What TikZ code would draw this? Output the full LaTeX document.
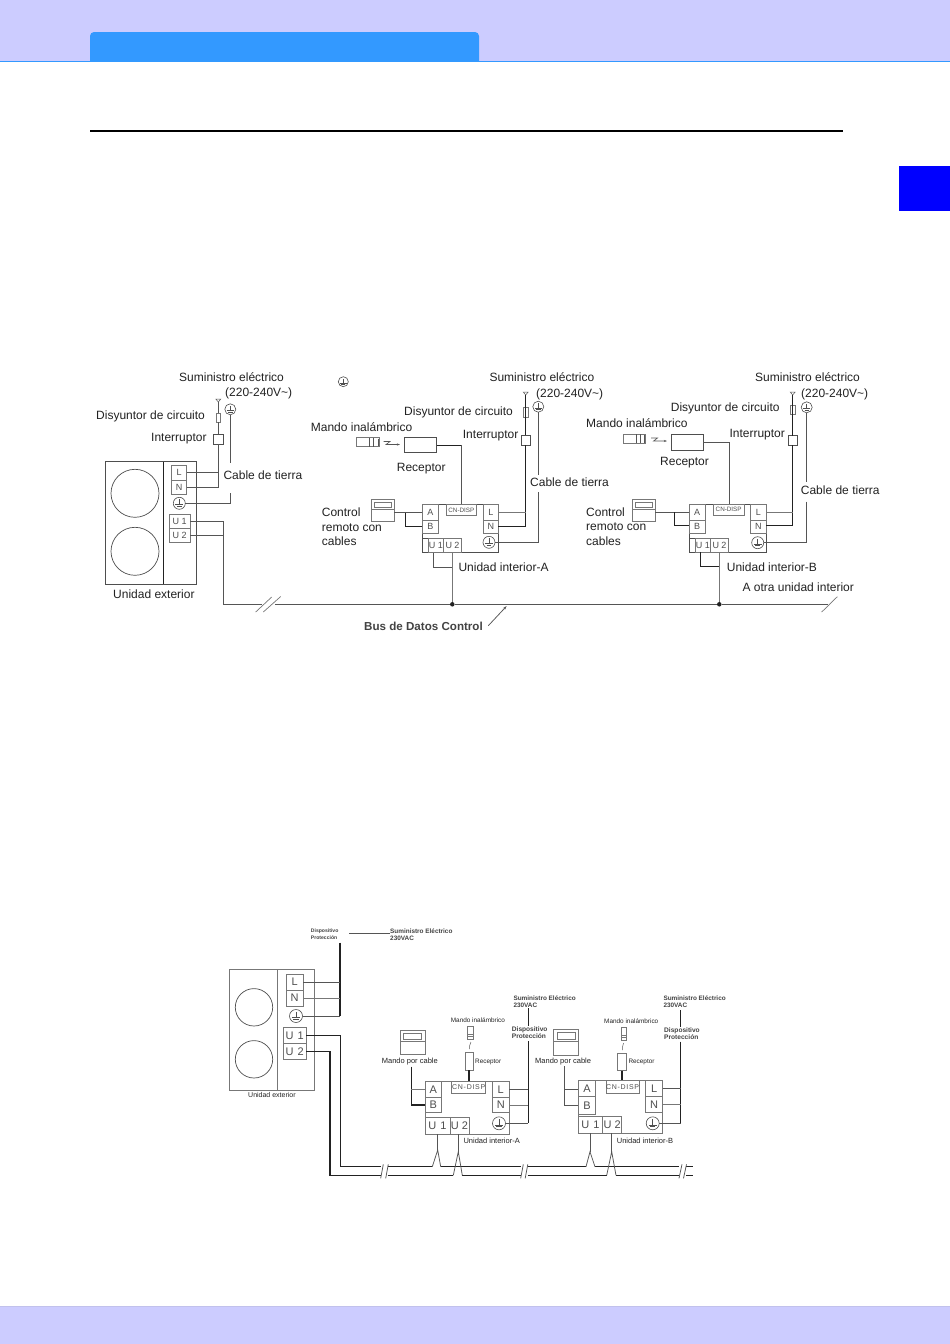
\documentclass[tikz,border=0pt]{standalone}
\usepackage{fontspec}
\setmainfont{Liberation Sans}
\usetikzlibrary{arrows.meta}
\definecolor{band}{HTML}{CCCCFF}
\definecolor{tabblue}{HTML}{3399FF}
\definecolor{ink}{HTML}{222222}
\definecolor{wire}{HTML}{555555}
\definecolor{boxline}{HTML}{777777}
\tikzset{
  wireln/.style={draw=wire,line width=.75pt},
  darkln/.style={draw=ink,line width=.9pt},
  thickln/.style={draw=ink,line width=1.8pt},
  midln/.style={draw=ink,line width=1.4pt},
  grayln/.style={draw=boxline,line width=.7pt},
  dotn/.style={circle,fill=ink,inner sep=0pt,minimum size=4.5pt},
  termbox/.style={draw=boxline,line width=.8pt,inner sep=0pt,outer sep=0pt,text=ink!80},
  unitbox/.style={draw=ink!80,line width=.8pt,inner sep=0pt,outer sep=0pt},
  fan/.style={circle,draw=ink!80,line width=.7pt,inner sep=0pt,outer sep=0pt},
}
% \lab{name}{size}{x left}{y centre}{text}
\newcommand\lab[5]{\node[anchor=west,inner sep=0pt,text=ink,font=\fontsize{#2}{#2}\selectfont,text height={#2*.72pt},text depth={#2*.16pt}] (#1) at (#3,#4) {#5};}
\newcommand\blab[5]{\node[anchor=west,inner sep=0pt,text=ink!85,font=\fontsize{#2}{#2}\selectfont\bfseries,text height={#2*.72pt},text depth={#2*.16pt}] (#1) at (#3,#4) {#5};}
% \bx{style}{name}{x1}{y1}{x2}{y2}{fontsize}{text}
\newcommand\bx[8]{\node[#1,minimum width={(#5-#3)*1pt},minimum height={(#6-#4)*1pt},font=\fontsize{#7}{#7}\selectfont] (#2) at ({(#3+#5)/2},{(#4+#6)/2}) {#8};}
% \gnd{name}{x}{y}{diameter}
\newcommand\gnd[4]{\node[circle,draw=ink!80,line width=.6pt,inner sep=0pt,outer sep=0pt,minimum size=#4pt] (#1) at (#2,#3) {};
  \draw[ink!80,line width=.5pt] (#2,#3-#4*.32) -- (#2,#3+#4*.12) (#2-#4*.32,#3+#4*.12) -- (#2+#4*.32,#3+#4*.12) (#2-#4*.2,#3+#4*.25) -- (#2+#4*.2,#3+#4*.25);}
% \ant{name}{x}{y}
\newcommand\ant[3]{\coordinate (#1) at (#2,#3);\draw[wire,line width=.5pt] (#2-2.5,#3-3) -- (#2+2.5,#3-3) -- (#1) -- cycle;}
\newcommand\spaced[1]{{\addfontfeature{LetterSpace=10}#1}}
\begin{document}
\begin{tikzpicture}[x=1pt,y=-1pt]
\useasboundingbox (0,0) rectangle (950,1344);
\fill[white] (0,0) rectangle (950,1344);
% page furniture
\fill[band] (0,0) rectangle (950,61);
\fill[tabblue,rounded corners=4pt] (90,65) -- (90,32) -- (479,32) -- (479,65) [sharp corners] -- cycle;
\fill[white] (85,61.5) rectangle (485,70);
\draw[tabblue,line width=.8pt] (0,61.3) -- (950,61.3);
\draw[black,line width=2pt] (90,130.8) -- (843,130.8);
\fill[blue] (899,166) rectangle (950,211);
\fill[band] (0,1306) rectangle (950,1344);
\fill[band!85!gray] (0,1306) rectangle (950,1307);

% ================= DIAGRAM 1 =================
% outdoor unit
\bx{unitbox}{oa}{105.3}{461.7}{196.7}{584}{8}{}
\draw[ink,line width=.8pt] (163.3,461.7) -- (163.3,584);
\node[fan,minimum size=48pt] (oaf1) at (135,493.3) {};
\node[fan,minimum size=48pt] (oaf2) at (135,551.3) {};
\bx{termbox}{oaL}{171.7}{465.7}{186.7}{480}{9}{L}
\bx{termbox}{oaN}{171.7}{480}{186.7}{494}{9}{N}
\gnd{oaG}{179.3}{503.3}{12}
\bx{termbox}{oaU1}{169.3}{514}{190}{528}{9}{U 1}
\bx{termbox}{oaU2}{169.3}{528}{190}{542}{9}{U 2}
\ant{oaT}{218.3}{402}
\bx{termbox}{oaF}{216}{413.3}{220.6}{422}{6}{}
\bx{unitbox}{oaS}{213.3}{434}{223.3}{444}{6}{}
\gnd{oaTG}{230.3}{409.3}{11}
\gnd{loneG}{343.3}{381.7}{10}
\coordinate (oaJN) at (218.3,487);
\coordinate (oaJL) at (218.3,472.5);
\coordinate (oaG1) at (230.3,463);
\coordinate (oaG2) at (230.3,493);
\coordinate (oaG3) at (230.3,503.3);
\coordinate (oaV1) at (223,521.3);
\coordinate (oaV2) at (223,535);
\coordinate (busL) at (223,604.3);
\draw[wireln] (oaT) -- (oaF.north);
\draw[wireln] (oaF.south) -- (oaS.north);
\draw[wireln] (oaS.south) -- (oaJN) -- (oaN.east |- oaJN);
\draw[wireln] (oaJL) -- (oaL.east |- oaJL);
\draw[wireln] (oaTG.south) -- (oaG1);
\draw[wireln] (oaG2) -- (oaG3) -- (oaG.east);
\draw[wireln] (oaU1.east |- oaV1) -- (oaV1) -- (busL);
\draw[wireln] (oaU2.east |- oaV2) -- (oaV2);
% bus
\node[dotn] (dotA) at (452.3,604.3) {};
\node[dotn] (dotB) at (719.3,604.3) {};
\coordinate (busG1) at (262,604.3);
\coordinate (busG2) at (275,604.3);
\coordinate (busR) at (828,604.3);
\draw[wireln] (busL) -- (busG1);
\draw[wireln] (busG2) -- (dotA) -- (dotB) -- (busR);
\coordinate (sl1a) at (255.7,612); \coordinate (sl1b) at (271.7,597);
\coordinate (sl2a) at (263.3,612); \coordinate (sl2b) at (280.7,596.5);
\coordinate (sl3a) at (821.7,612); \coordinate (sl3b) at (837.3,596.7);
\draw[grayln] (sl1a) -- (sl1b) (sl2a) -- (sl2b) (sl3a) -- (sl3b);
\coordinate (arrA) at (488.3,625.7); \coordinate (arrB) at (506.7,606);
\draw[wireln,-{Stealth[length=4pt,width=2.5pt]}] (arrA) -- (arrB);
% labels outdoor
\lab{t1}{12}{179}{378.5}{Suministro eléctrico}
\lab{t2}{12}{225}{393.5}{(220-240V\textasciitilde)}
\lab{t3}{12}{96}{416}{Disyuntor de circuito}
\lab{t4}{12}{151}{438.5}{Interruptor}
\lab{t5}{12}{223.3}{476}{Cable de tierra}
\lab{t6}{12}{113}{595}{Unidad exterior}
\blab{t7}{11.6}{364}{627.3}{Bus de Datos Control}

% indoor A
\bx{unitbox}{ia}{422.3}{504.3}{498.3}{552.7}{8}{}
\bx{termbox}{iaA}{422.3}{504.3}{438.3}{520}{9}{A}
\bx{termbox}{iaB}{422.3}{520}{438.3}{533.3}{9}{B}
\draw[ink!80,line width=.8pt] (422.3,538.3) -- (461.7,538.3) -- (461.7,552.7);
\bx{termbox}{iaU1}{428.3}{538.3}{443.3}{552.7}{9}{U 1}
\bx{termbox}{iaU2}{443.3}{538.3}{461.7}{552.7}{9}{U 2}
\bx{termbox}{iaC}{446}{504.3}{476.7}{515.7}{6.3}{CN-DISP}
\bx{termbox}{iaL}{483.3}{504.3}{498.3}{520}{9}{L}
\bx{termbox}{iaN}{483.3}{520}{498.3}{533.3}{9}{N}
\gnd{iaG}{489}{542.3}{12}
\ant{iaT}{525.7}{395}
\bx{termbox}{iaF}{523.2}{407.7}{528.2}{417.3}{6}{}
\bx{unitbox}{iaS}{521.2}{435}{530.2}{445}{6}{}
\gnd{iaTG}{538.3}{406.7}{11}
\bx{unitbox}{iaR}{404.3}{437}{436.7}{452.7}{6}{}
\bx{termbox}{iaM}{356}{437.7}{379.3}{446.7}{6}{}
\draw[wire,line width=.6pt] (369.3,437.7) -- (369.3,446.7) (373,437.7) -- (373,446.7) (378,438.5) -- (378,446);
\draw[wire,line width=.6pt,-{Stealth[length=3pt,width=2pt]}] (383.5,441.5) -- (390,441.5) -- (386,444.5) -- (400,444.5);
\bx{termbox}{iaD}{371}{499.3}{394.3}{521.7}{6}{}
\bx{termbox}{iaDs}{374}{502.3}{391.7}{507.3}{6}{}
\draw[boxline,line width=.7pt] (371,509.3) -- (394.3,509.3);
\coordinate (iaJ1) at (461.7,445);
\coordinate (iaJL) at (525.7,512);
\coordinate (iaJN) at (525.7,526);
\coordinate (iaG1) at (538.3,475);
\coordinate (iaG2) at (538.3,492);
\coordinate (iaG3) at (538.3,542.3);
\coordinate (iaW1) at (405.7,512.7);
\coordinate (iaW2) at (405.7,526);
\coordinate (iaW3) at (433.3,567.3);
\coordinate (iaW4) at (452.3,567.3);
\draw[darkln] (iaR.east |- iaJ1) -- (iaJ1);
\draw[wireln] (iaJ1) -- (iaJ1 |- iaC.north);
\draw[darkln] (iaT) -- (iaS.north);
\draw[darkln] (iaS.south) -- (iaJN) -- (iaN.east |- iaJN);
\draw[grayln] (iaJL) -- (iaL.east |- iaJL);
\draw[wireln] (iaTG.south) -- (iaG1);
\draw[wireln] (iaG2) -- (iaG3) -- (iaG.east);
\draw[wireln] (iaD.east |- iaW1) -- (iaA.west |- iaW1);
\draw[darkln] (iaW1) -- (iaW2) -- (iaB.west |- iaW2);
\draw[wireln] (iaW3 |- iaU1.south) -- (iaW3) -- (iaW4);
\draw[grayln] (dotA) -- (iaW4) -- (iaW4 |- ia.south);
\lab{a1}{12}{489.3}{378}{Suministro eléctrico}
\lab{a2}{12}{536}{394}{(220-240V\textasciitilde)}
\lab{a3}{12}{404}{412}{Disyuntor de circuito}
\lab{a4}{12}{462.7}{435}{Interruptor}
\lab{a5}{12}{530}{483.3}{Cable de tierra}
\lab{a6}{12}{310.7}{428}{Mando inalámbrico}
\lab{a7}{12}{396.7}{468}{Receptor}
\lab{a8}{12}{321.7}{513}{Control}
\lab{a9}{12}{321.7}{528}{remoto con}
\lab{a10}{12}{321.7}{542.3}{cables}
\lab{a11}{12}{458.3}{568}{Unidad interior-A}

% indoor B
\bx{unitbox}{ib}{689.3}{504.3}{766}{552.3}{8}{}
\bx{termbox}{ibA}{689.3}{504.3}{705}{520}{9}{A}
\bx{termbox}{ibB}{689.3}{520}{705}{533.3}{9}{B}
\draw[ink!80,line width=.8pt] (689.3,538.3) -- (728.3,538.3) -- (728.3,552.3);
\bx{termbox}{ibU1}{695}{538.3}{710.7}{552.3}{9}{U 1}
\bx{termbox}{ibU2}{710.7}{538.3}{728.3}{552.3}{9}{U 2}
\bx{termbox}{ibC}{713.3}{504.3}{744}{515}{6.3}{CN-DISP}
\bx{termbox}{ibL}{750.7}{504.3}{766}{520}{9}{L}
\bx{termbox}{ibN}{750.7}{520}{766}{533.3}{9}{N}
\gnd{ibG}{757.7}{542.7}{12}
\ant{ibT}{792.7}{395}
\bx{termbox}{ibF}{789.9}{405}{795.5}{414.3}{6}{}
\bx{unitbox}{ibS}{788.2}{435.7}{797.2}{445}{6}{}
\gnd{ibTG}{806.7}{407.3}{11}
\bx{unitbox}{ibR}{671.7}{434.3}{703.3}{450}{6}{}
\bx{termbox}{ibM}{623.3}{434.3}{645.7}{443.3}{6}{}
\draw[wire,line width=.6pt] (636.5,434.3) -- (636.5,443.3) (640,434.3) -- (640,443.3) (644.5,435) -- (644.5,442.5);
\draw[wire,line width=.6pt,-{Stealth[length=3pt,width=2pt]}] (651,438) -- (657.5,438) -- (653.5,441) -- (667,441);
\bx{termbox}{ibD}{632.3}{499.3}{655}{521.3}{6}{}
\bx{termbox}{ibDs}{635}{502}{652.5}{507}{6}{}
\draw[boxline,line width=.7pt] (632.3,509) -- (655,509);
\coordinate (ibJ1) at (729.3,442);
\coordinate (ibJL) at (792.7,512);
\coordinate (ibJN) at (792.7,525.7);
\coordinate (ibG1) at (806.7,481.7);
\coordinate (ibG2) at (806.7,501.7);
\coordinate (ibG3) at (806.7,542.7);
\coordinate (ibW1) at (674,512);
\coordinate (ibW2) at (674,525.7);
\coordinate (ibW3) at (700,566.7);
\coordinate (ibW4) at (719.3,566.7);
\draw[wireln] (ibR.east |- ibJ1) -- (ibJ1) -- (ibJ1 |- ibC.north);
\draw[darkln] (ibT) -- (ibS.north);
\draw[darkln] (ibS.south) -- (ibJN) -- (ibN.east |- ibJN);
\draw[grayln] (ibJL) -- (ibL.east |- ibJL);
\draw[wireln] (ibTG.south) -- (ibG1);
\draw[wireln] (ibG2) -- (ibG3) -- (ibG.east);
\draw[wireln] (ibD.east |- ibW1) -- (ibA.west |- ibW1);
\draw[darkln] (ibW1) -- (ibW2) -- (ibB.west |- ibW2);
\draw[darkln] (ibW3 |- ibU1.south) -- (ibW3) -- (ibW4);
\draw[grayln] (dotB) -- (ibW4) -- (ibW4 |- ib.south);
\lab{b1}{12}{755}{378}{Suministro eléctrico}
\lab{b2}{12}{801}{394}{(220-240V\textasciitilde)}
\lab{b3}{12}{670.7}{407.7}{Disyuntor de circuito}
\lab{b4}{12}{729.3}{433.7}{Interruptor}
\lab{b5}{12}{800.7}{491}{Cable de tierra}
\lab{b6}{12}{586}{424}{Mando inalámbrico}
\lab{b7}{12}{660}{461.7}{Receptor}
\lab{b8}{12}{586}{512.7}{Control}
\lab{b9}{12}{586}{527}{remoto con}
\lab{b10}{12}{586}{542}{cables}
\lab{b11}{12}{726.7}{568}{Unidad interior-B}
\lab{b12}{12}{742.3}{588}{A otra unidad interior}

% ================= DIAGRAM 2 =================
\bx{termbox}{oc}{229.3}{969.3}{314.7}{1090.7}{8}{}
\draw[boxline,line width=.8pt] (277.3,969.3) -- (277.3,1090.7);
\node[fan,minimum size=37.4pt] (ocf1) at (254,1007.3) {};
\node[fan,minimum size=37.4pt] (ocf2) at (254,1059.3) {};
\bx{termbox}{ocL}{286}{974}{303.3}{990}{11}{L}
\bx{termbox}{ocN}{286}{990}{303.3}{1006}{11}{N}
\gnd{ocG}{296}{1016}{13}
\bx{termbox}{ocU1}{283.3}{1027.3}{306}{1043.3}{11}{\spaced{U 1}}
\bx{termbox}{ocU2}{283.3}{1043.3}{306}{1059.3}{11}{\spaced{U 2}}
\coordinate (ocTop) at (340,942.7);
\coordinate (ocJL) at (340,982);
\coordinate (ocJN) at (340,998);
\coordinate (ocJG) at (340,1016);
\draw[thickln] (ocTop) -- (ocJG);
\draw[wireln] (ocL.east |- ocJL) -- (ocJL);
\draw[grayln] (ocN.east |- ocJN) -- (ocJN);
\draw[wireln] (ocG.east) -- (ocJG);
\blab{c1}{5.1}{310.7}{931}{Dispositivo}
\blab{c2}{5.1}{310.7}{938.5}{Protección}
\blab{c3}{6.4}{390}{932}{Suministro Eléctrico}
\blab{c4}{6.4}{390}{939}{230VAC}
\coordinate (c0) at (349.3,933.3);
\draw[wireln] (c0) -- (c3.west |- c0);
\lab{c5}{7}{248}{1096}{Unidad exterior}
% bus coordinates
\coordinate (up0) at (340,1035.7);
\coordinate (up1) at (340,1166.7);
\coordinate (lo0) at (330,1051.7);
\coordinate (lo1) at (330,1175.3);
\foreach \nm/\xx in {uA/380.7,uB/387.5,uC/432.3,uD/440.7,uE/520.7,uF/527.5,uG/586,uH/595,uI/679,uJ/686,uK/693.3}{\coordinate (\nm) at (\xx,1166.7);}
\foreach \nm/\xx in {lA/380.7,lB/387.5,lC/453.3,lD/462.3,lE/520.7,lF/527.5,lG/606.7,lH/616,lI/679,lJ/686,lK/693.3}{\coordinate (\nm) at (\xx,1175.3);}
\draw[darkln] (ocU1.east |- up0) -- (up0) -- (up1) -- (uA);
\draw[midln] (ocU2.east |- lo0) -- (lo0) -- (lo1) -- (lA);
\draw[darkln] (uB) -- (uC) (uD) -- (uE) (uF) -- (uG) (uH) -- (uI) (uJ) -- (uK);
\draw[midln] (lB) -- (lC) (lD) -- (lE) (lF) -- (lG) (lH) -- (lI) (lJ) -- (lK);
\draw[wireln] (380.7,1178.3) -- (383.3,1164.3) (385.7,1178.3) -- (388.3,1164.3);
\draw[wireln] (520.7,1178.3) -- (523.3,1164.3) (525.2,1178.3) -- (527.8,1164.3);
\draw[wireln] (679,1178.3) -- (682,1164.3) (683.5,1178.3) -- (686.5,1164.3);

% indoor A (2)
\bx{termbox}{ja}{425}{1081}{509.3}{1134.3}{8}{}
\bx{termbox}{jaA}{425}{1081}{441.7}{1097.7}{11}{A}
\bx{termbox}{jaB}{425}{1097.7}{441.7}{1112.7}{11}{B}
\bx{termbox}{jaU1}{425}{1117.7}{450}{1134.3}{11}{\spaced{U 1}}
\bx{termbox}{jaU2}{450}{1117.7}{469}{1134.3}{11}{U 2}
\bx{termbox}{jaC}{451.7}{1081}{485.7}{1093.3}{7}{\spaced{CN-DISP}}
\bx{termbox}{jaL}{492.3}{1081}{509.3}{1097.7}{11}{L}
\bx{termbox}{jaN}{492.3}{1097.7}{509.3}{1112.7}{11}{N}
\gnd{jaG}{499}{1123.3}{13}
\bx{termbox}{jaD}{400}{1030}{425}{1054.3}{6}{}
\bx{termbox}{jaDs}{403.3}{1033.3}{421.7}{1039}{6}{}
\draw[boxline,line width=.7pt] (400,1041.7) -- (425,1041.7);
\bx{termbox}{jaM}{467.7}{1026.7}{473.3}{1039.3}{6}{}
\draw[boxline,line width=.6pt] (467.7,1034) -- (473.3,1034) (467.7,1036) -- (473.3,1036);
\draw[wire,line width=.5pt] (471,1042) -- (469.5,1046) -- (469.5,1049);
\bx{termbox}{jaR}{465}{1052.3}{473.3}{1070}{6}{}
\coordinate (jaT) at (528.3,1008.3);
\coordinate (jaT2) at (528.3,1026);
\coordinate (jaT3) at (528.3,1041);
\coordinate (jaJL) at (528.3,1089);
\coordinate (jaJN) at (528.3,1105);
\coordinate (jaJG) at (528.3,1123.3);
\coordinate (jaW0) at (411.3,1066.7);
\coordinate (jaW1) at (411.3,1089.5);
\coordinate (jaW2) at (411.3,1105);
\draw[midln] (jaT) -- (jaT2) (jaT3) -- (jaJG);
\draw[wireln] (jaL.east |- jaJL) -- (jaJL);
\draw[grayln] (jaN.east |- jaJN) -- (jaJN);
\draw[wireln] (jaG.east) -- (jaJG);
\draw[midln] (jaR.south) -- (jaR.south |- jaC.north);
\draw[midln] (jaW0) -- (jaW2) -- (jaB.west |- jaW2);
\draw[grayln] (jaW1) -- (jaA.west |- jaW1);
\coordinate (jaP1) at (437.7,1150);
\coordinate (jaP2) at (458.3,1151.7);
\draw[wireln] (jaP1 |- jaU1.south) -- (jaP1);
\draw[wireln] (jaP2 |- jaU2.south) -- (jaP2);
\draw[wireln] (uC) -- (jaP1) -- (uD);
\draw[wireln] (lC) -- (jaP2) -- (lD);
\blab{d1}{6.4}{513.3}{998.7}{Suministro Eléctrico}
\blab{d2}{6.4}{513.3}{1005.7}{230VAC}
\blab{d3}{6.6}{511.7}{1030}{Dispositivo}
\blab{d4}{6.6}{511.7}{1037}{Protección}
\lab{d5}{6.4}{450.7}{1021}{Mando inalámbrico}
\lab{d6}{6.4}{475}{1062}{Receptor}
\lab{d7}{7.5}{381.7}{1061}{Mando por cable}
\lab{d8}{7.5}{463.3}{1141}{Unidad interior-A}

% indoor B (2)
\bx{termbox}{jb}{578.3}{1080}{662.7}{1133.3}{8}{}
\bx{termbox}{jbA}{578.3}{1080}{595.7}{1096.7}{11}{A}
\bx{termbox}{jbB}{578.3}{1096.7}{595.7}{1114.3}{11}{B}
\bx{termbox}{jbU1}{578.3}{1116}{602.7}{1133.3}{11}{\spaced{U 1}}
\bx{termbox}{jbU2}{602.7}{1116}{621.7}{1133.3}{11}{U 2}
\bx{termbox}{jbC}{606}{1080}{639.3}{1093.3}{7}{\spaced{CN-DISP}}
\bx{termbox}{jbL}{645.7}{1080}{662.7}{1096.7}{11}{L}
\bx{termbox}{jbN}{645.7}{1096.7}{662.7}{1112.3}{11}{N}
\gnd{jbG}{652.7}{1123.3}{13}
\bx{termbox}{jbD}{553.3}{1029.3}{578.3}{1055}{6}{}
\bx{termbox}{jbDs}{557.3}{1032.7}{575}{1039.3}{6}{}
\draw[boxline,line width=.7pt] (553.3,1041.7) -- (578.3,1041.7);
\bx{termbox}{jbM}{621}{1027.3}{626.7}{1040}{6}{}
\draw[boxline,line width=.6pt] (621,1035) -- (626.7,1035) (621,1037) -- (626.7,1037);
\draw[wire,line width=.5pt] (623.5,1043) -- (622.5,1047) -- (622.5,1050);
\bx{termbox}{jbR}{617.3}{1053.3}{626.7}{1070.7}{6}{}
\coordinate (jbT) at (680.7,1010);
\coordinate (jbT2) at (680.7,1026.5);
\coordinate (jbT3) at (680.7,1041.5);
\coordinate (jbJL) at (680.7,1088.7);
\coordinate (jbJN) at (680.7,1104.7);
\coordinate (jbJG) at (680.7,1123.3);
\coordinate (jbW0) at (564,1066);
\coordinate (jbW1) at (564,1089.3);
\coordinate (jbW2) at (564,1105.7);
\draw[midln] (jbT) -- (jbT2) (jbT3) -- (jbJG);
\draw[wireln] (jbL.east |- jbJL) -- (jbJL);
\draw[grayln] (jbN.east |- jbJN) -- (jbJN);
\draw[wireln] (jbG.east) -- (jbJG);
\draw[midln] (jbR.south) -- (jbR.south |- jbC.north);
\draw[wireln] (jbW0) -- (jbW2) -- (jbB.west |- jbW2);
\draw[wireln] (jbW1) -- (jbA.west |- jbW1);
\coordinate (jbP1) at (590,1151.7);
\coordinate (jbP2) at (611.7,1151.7);
\draw[wireln] (jbP1 |- jbU1.south) -- (jbP1);
\draw[wireln] (jbP2 |- jbU2.south) -- (jbP2);
\draw[wireln] (uG) -- (jbP1) -- (uH);
\draw[wireln] (lG) -- (jbP2) -- (lH);
\blab{e1}{6.4}{663.3}{998.7}{Suministro Eléctrico}
\blab{e2}{6.4}{663.3}{1005.7}{230VAC}
\blab{e3}{6.6}{664}{1031}{Dispositivo}
\blab{e4}{6.6}{664}{1038}{Protección}
\lab{e5}{6.4}{604}{1021.3}{Mando inalámbrico}
\lab{e6}{6.4}{628.3}{1062}{Receptor}
\lab{e7}{7.5}{535}{1061}{Mando por cable}
\lab{e8}{7.5}{616.7}{1141}{Unidad interior-B}
\end{tikzpicture}
\end{document}
